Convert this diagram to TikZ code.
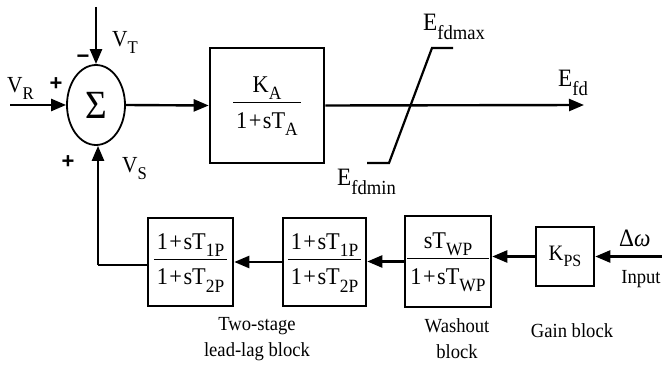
\documentclass[tikz,border=0pt]{standalone}
\usepackage{fontspec}
\setmainfont{Liberation Serif}[FakeStretch=0.93]
\newfontfamily\sgnfont{Liberation Sans}
\usetikzlibrary{shapes.geometric,arrows.meta}
\newcommand\sbs[1]{\raisebox{-0.3em}{\scalebox{0.78}{#1}}}
\newcommand\esb[1]{\raisebox{-0.36em}{\scalebox{0.8}{#1}}}
\newcommand\pl{\hspace{1.5pt}+\hspace{1.5pt}}
\newcommand\myfr[2]{\begin{tabular}{@{\hspace{3pt}}c@{\hspace{3pt}}}#1\\[2pt]\hline\rule{0pt}{25pt}#2\end{tabular}}
\setlength\arrayrulewidth{1.2pt}
\begin{document}
\begin{tikzpicture}[x=1pt,y=-1pt,
  blk/.style={draw,line width=2.6pt,inner sep=0pt},
  ar/.style={line width=2.4pt,-{Triangle[length=15pt,width=12pt]}},
  ln/.style={line width=2.4pt},
  vlbl/.style={inner sep=0pt,anchor=base west,font=\fontsize{23}{26}\selectfont},
  elbl/.style={inner sep=0pt,anchor=base west,font=\fontsize{25}{26}\selectfont},
  sgn/.style={inner sep=0pt,font=\fontsize{22}{22}\sgnfont\bfseries},
  capt/.style={inner sep=0pt,align=center,font=\fontsize{20}{26}\selectfont},
  frac/.style={font=\fontsize{24}{25}\selectfont}]
\useasboundingbox (0,0) rectangle (662,366);

% summing junction
\node[draw,ellipse,line width=1.8pt,minimum width=58pt,minimum height=80pt,inner sep=0pt,
  font=\fontsize{40}{40}\selectfont] (sum) at (96,105) {Σ};
\coordinate (vr) at (10,105);
\coordinate (vt) at (96,7);
\draw[ar] (vr) -- (sum.west);
\draw[ar] (vt) -- (sum.north);

% exciter block
\node[blk,frac,minimum width=114pt,minimum height=115pt] (ka) at (267,105.5)
  {\myfr{K\sbs{A}}{1\pl sT\sbs{A}}};
\draw[ar] (sum.east) -- (ka.west);
\coordinate (efd) at (584,105);

% limiter
\draw[line width=2.2pt] (367,163) -- (389,163) -- (432,48) -- (453,48);
\draw[ar] (ka.east) -- (efd);

% PSS blocks
\node[blk,frac,minimum width=85pt,minimum height=88pt] (ll1) at (190.5,262)
  {\myfr{1\pl sT\sbs{1P}}{1\pl sT\sbs{2P}}};
\node[blk,frac,minimum width=83pt,minimum height=88pt] (ll2) at (324.5,262)
  {\myfr{1\pl sT\sbs{1P}}{1\pl sT\sbs{2P}}};
\node[blk,frac,minimum width=86pt,minimum height=91pt] (wo) at (448,261.5)
  {\myfr{sT\sbs{WP}}{1\pl sT\sbs{WP}}};
\node[blk,font=\fontsize{22}{22}\selectfont,minimum width=58pt,minimum height=59pt] (gain) at (565,256.5)
  {K\sbs{PS}};
\coordinate (in) at (662,256.5);
\draw[ar] (in) -- (gain.east);
\draw[ar] (gain.west) -- (gain.west -| wo.east);
\draw[ar] (wo.west) -- (wo.west -| ll2.east);
\draw[ar] (ll2.west) -- (ll2.west -| ll1.east);
\coordinate (fb) at (98,265);
\draw[ln] (ll1.west |- fb) -- (fb);
\draw[ar] (fb) -- (fb |- sum.south);

% labels
\node[vlbl] at (112,47) {V\sbs{T}};
\node[vlbl] at (7,93) {V\sbs{R}};
\node[vlbl] at (122,173) {V\sbs{S}};
\node[sgn] at (83,59) {−};
\node[sgn] at (56,84) {+};
\node[sgn] at (68,162) {+};
\node[elbl] at (558,87) {E\esb{fd}};
\node[elbl] at (423,31) {E\esb{fdmax}};
\node[elbl] at (337,186) {E\esb{fdmin}};
\node[inner sep=0pt,anchor=base west,font=\fontsize{25}{26}\selectfont] at (619,247) {Δ\textit{ω}};
\node[capt] at (641,279) {Input};
\node[capt] at (257,339) {Two-stage\\lead-lag block};
\node[capt] at (457,339) {Washout\\block};
\node[capt] at (572,331) {Gain block};
\end{tikzpicture}
\end{document}
